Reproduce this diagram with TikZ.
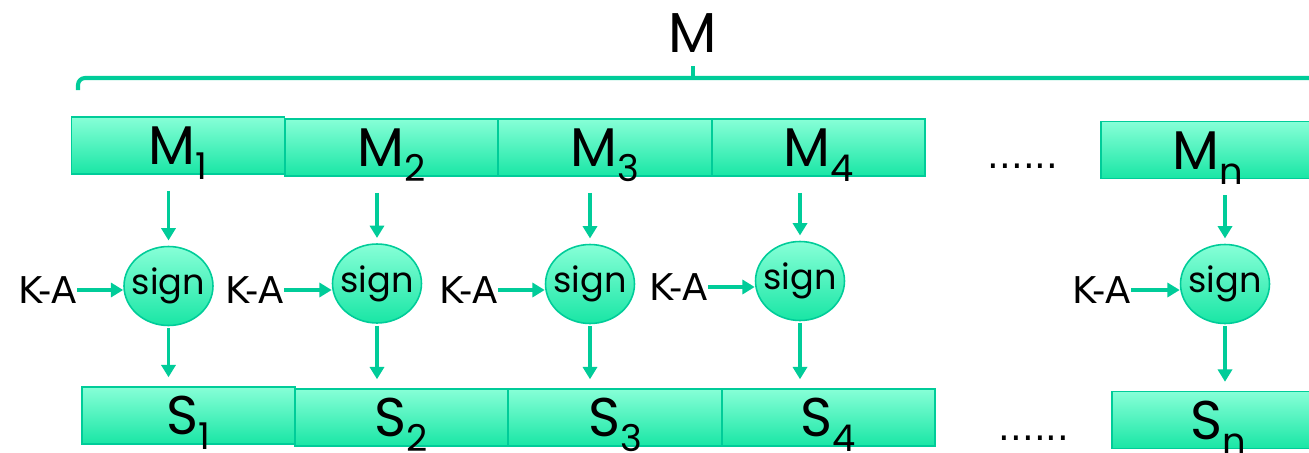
\documentclass[tikz,border=0pt]{standalone}
\usepackage{fontspec}
\setmainfont{DejaVu Sans}
\newfontfamily\handfont{Poppins}
\usetikzlibrary{arrows.meta,shapes.geometric}
\definecolor{seagreen}{RGB}{0,204,153}
\definecolor{mintlight}{RGB}{135,255,215}
\definecolor{mintdark}{RGB}{25,230,165}
\newcommand\sub[1]{\raisebox{-0.27em}{\fontsize{21}{21}\selectfont #1}}
\tikzset{
  blockbox/.style={draw=seagreen, line width=1.1pt, top color=mintlight, bottom color=mintdark,
    minimum width=4.26cm, minimum height=1.14cm, inner sep=0pt, text height=22pt, text depth=0pt,
    font=\handfont\fontsize{31}{31}\selectfont},
  signnode/.style={ellipse, draw=seagreen, line width=0.9pt, top color=mintlight, bottom color=mintdark,
    minimum width=1.78cm, minimum height=1.58cm, inner xsep=-12pt, inner ysep=0pt,
    font=\handfont\fontsize{20}{20}\selectfont},
  flow/.style={draw=seagreen, line width=2.2pt, -{Triangle[length=7pt,width=8pt]}},
  brace/.style={draw=seagreen, line width=2.3pt, rounded corners=4pt}
}
\begin{document}
\begin{tikzpicture}[x=0.02cm,y=-0.02cm,font=\fontsize{21}{21}\selectfont]
\useasboundingbox (0,0) rectangle (1309,453);
% the whole message
\node[font=\handfont\fontsize{32}{32}\selectfont] (mall) at (693,33) {M};
\draw[brace] (78,90) -- (78,78) -- (1330,78);
\draw[brace] (693,78) -- (693,66);
% message blocks
\node[blockbox] (m1) at (178,145.5) {M\sub{1}};
\node[blockbox] (m2) at (391.5,147.5) {M\sub{2}};
\node[blockbox] (m3) at (605,147.5) {M\sub{3}};
\node[blockbox] (m4) at (818.5,147.5) {M\sub{4}};
\node[blockbox] (mn) at (1207.5,150) {M\sub{n}};
\node[anchor=base] (dotsm) at (1023,168) {......};
% signing
\node[signnode] (sign1) at (168.5,286) {sign};
\node[signnode] (sign2) at (377,283.5) {sign};
\node[signnode] (sign3) at (590,284) {sign};
\node[signnode] (sign4) at (800,281) {sign};
\node[signnode] (signn) at (1225,284) {sign};
\node[anchor=east,inner sep=0pt] (ka1) at (77,290) {K-A};
\node[anchor=east,inner sep=0pt] (ka2) at (284,290) {K-A};
\node[anchor=east,inner sep=0pt] (ka3) at (498,290) {K-A};
\node[anchor=east,inner sep=0pt] (ka4) at (708,287) {K-A};
\node[anchor=east,inner sep=0pt] (kan) at (1131,290) {K-A};
% signature blocks
\node[blockbox] (s1) at (188.5,415.5) {S\sub{1}};
\node[blockbox] (s2) at (401.5,417.5) {S\sub{2}};
\node[blockbox] (s3) at (615,417.5) {S\sub{3}};
\node[blockbox] (s4) at (828.5,417.5) {S\sub{4}};
\node[blockbox] (sn) at (1218.5,420) {S\sub{n}};
\node[anchor=base] (dotss) at (1034,440) {......};
% arrows
\draw[flow,shorten <=9pt,shorten >=3pt] (sign1 |- m1.south) -- (sign1.north);
\draw[flow,shorten <=9pt,shorten >=3pt] (sign2 |- m2.south) -- (sign2.north);
\draw[flow,shorten <=9pt,shorten >=3pt] (sign3 |- m3.south) -- (sign3.north);
\draw[flow,shorten <=9pt,shorten >=3pt] (sign4 |- m4.south) -- (sign4.north);
\draw[flow,shorten <=9pt,shorten >=3pt] (signn |- mn.south) -- (signn.north);
\draw[flow] (ka1.east) -- (ka1.east -| sign1.west);
\draw[flow] (ka2.east) -- (ka2.east -| sign2.west);
\draw[flow] (ka3.east) -- (ka3.east -| sign3.west);
\draw[flow] (ka4.east) -- (ka4.east -| sign4.west);
\draw[flow] (kan.east) -- (kan.east -| signn.west);
\draw[flow,shorten <=1pt,shorten >=5pt] (sign1.south) -- (sign1 |- s1.north);
\draw[flow,shorten <=1pt,shorten >=5pt] (sign2.south) -- (sign2 |- s2.north);
\draw[flow,shorten <=1pt,shorten >=5pt] (sign3.south) -- (sign3 |- s3.north);
\draw[flow,shorten <=1pt,shorten >=5pt] (sign4.south) -- (sign4 |- s4.north);
\draw[flow,shorten <=1pt,shorten >=5pt] (signn.south) -- (signn |- sn.north);
\end{tikzpicture}
\end{document}
